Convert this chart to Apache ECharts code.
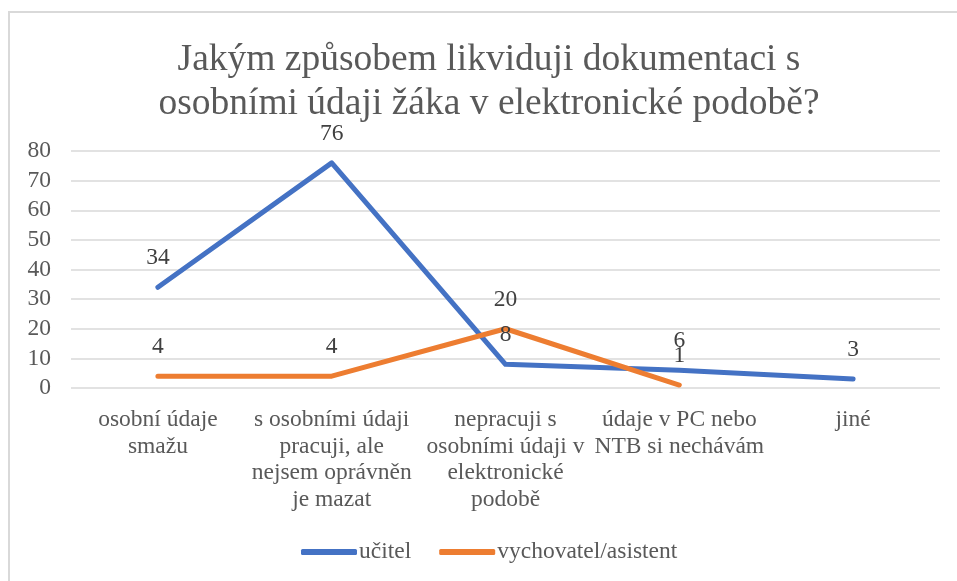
<!DOCTYPE html>
<html>
<head>
<meta charset="utf-8">
<script src="https://cdn.jsdelivr.net/npm/echarts@6/dist/echarts.min.js"></script>
<style>
  html, body { margin: 0; padding: 0; background: #ffffff; }
  #chart { width: 957px; height: 581px; }
</style>
</head>
<body>
<div id="chart"></div>
<script>
// Categories (line breaks as shown under the axis)
const categories = [
  'osobní údaje\nsmažu',
  's osobními údaji\npracuji, ale\nnejsem oprávněn\nje mazat',
  'nepracuji s\nosobními údaji v\nelektronické\npodobě',
  'údaje v PC nebo\nNTB si nechávám',
  'jiné'
];
const ucitel = [34, 76, 8, 6, 3];
const vychovatel = [4, 4, 20, 1, null];
const yTicks = { min: 0, max: 80, interval: 10 };

const font = '"Liberation Serif", "Times New Roman", serif';
const grey = '#595959';
const textSize = 23.5;

const valueLabel = {
  show: true,
  position: 'top',
  distance: 17,
  fontFamily: font,
  fontSize: textSize,
  color: '#404040'
};

const chart = echarts.init(document.getElementById('chart'));
chart.setOption({
  backgroundColor: '#ffffff',
  animation: false,
  textStyle: { fontFamily: font },
  graphic: [{
    type: 'rect',
    shape: { x: 9, y: 12, width: 1000, height: 1000 },
    style: { fill: 'none', stroke: '#d9d9d9', lineWidth: 2 },
    silent: true
  }],
  title: {
    text: 'Jakým způsobem likviduji dokumentaci s\nosobními údaji žáka v elektronické podobě?',
    left: 484,
    top: 33,
    textAlign: 'center',
    textStyle: {
      fontFamily: font,
      fontWeight: 'normal',
      fontSize: 37.5,
      lineHeight: 44,
      color: grey
    }
  },
  legend: {
    bottom: 12,
    left: 296,
    itemWidth: 56,
    itemHeight: 6,
    itemGap: 28,
    icon: 'roundRect',
    textStyle: { fontFamily: font, fontSize: textSize, color: grey, padding: [0, 0, 0, -3] },
    data: ['učitel', 'vychovatel/asistent']
  },
  grid: { left: 71, right: 17, top: 151, bottom: 193 },
  xAxis: {
    type: 'category',
    data: categories,
    boundaryGap: true,
    axisLine: { show: false },
    axisTick: { show: false },
    axisLabel: {
      interval: 0,
      margin: 19,
      fontFamily: font,
      fontSize: textSize,
      lineHeight: 26.5,
      color: grey,
      align: 'center'
    }
  },
  yAxis: {
    type: 'value',
    min: yTicks.min,
    max: yTicks.max,
    interval: yTicks.interval,
    axisLine: { show: false },
    axisTick: { show: false },
    axisLabel: { fontFamily: font, fontSize: textSize, color: grey, margin: 20 },
    splitLine: { lineStyle: { color: '#d9d9d9', width: 1.5 } }
  },
  series: [
    {
      name: 'učitel',
      type: 'line',
      data: ucitel,
      symbol: 'circle',
      symbolSize: 0,
      showSymbol: true,
      lineStyle: { color: '#4472C4', width: 5, cap: 'round', join: 'round' },
      itemStyle: { color: '#4472C4' },
      label: valueLabel
    },
    {
      name: 'vychovatel/asistent',
      type: 'line',
      data: vychovatel,
      symbol: 'circle',
      symbolSize: 0,
      showSymbol: true,
      lineStyle: { color: '#ED7D31', width: 5, cap: 'round', join: 'round' },
      itemStyle: { color: '#ED7D31' },
      label: valueLabel
    }
  ]
});
</script>
</body>
</html>
